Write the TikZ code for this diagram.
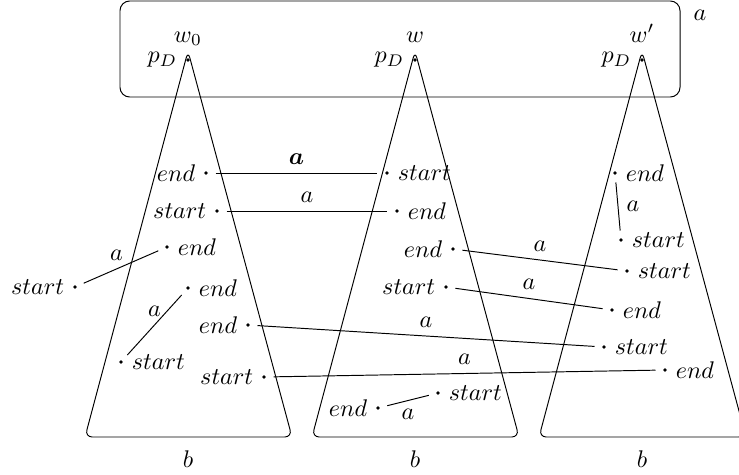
\documentclass[tikz,border=0pt]{standalone}
\usepackage{amsmath,amssymb}
\usepackage{tikz}
\usetikzlibrary{positioning}

\begin{document}
\begin{tikzpicture}[
  x=0.415pt,y=-0.415pt,
  pt/.style={circle,fill,inner sep=0pt,minimum size=1.5pt},
  tri/.style={rounded corners=3pt},
  link/.style={shorten <=3pt,shorten >=3pt},
  top/.style={label={[anchor=base,label distance=6.4pt]above:#1}}
]
\useasboundingbox (0,0) rectangle (739,474);
% world box
\draw[rounded corners=4pt] (120,1) rectangle (680,97);
\node (la) at (700,15) {$a$};
% trees
\foreach \x in {188,415,642} {
  \draw[tri] (\x,51) -- ++(-103,386) -- ++(207,0) -- cycle;
  \node at (\x,459) {$b$};
}
% roots
\node[pt,top=$w_0$,label=left:$p_D$] (r1) at (188,60) {};
\node[pt,top=$w$,label=left:$p_D$] (r2) at (415,60) {};
\node[pt,top=$w'$,label=left:$p_D$] (r3) at (642,60) {};
% first tree
\node[pt,label=left:$end$] (u1) at (206,173) {};
\node[pt,label=left:$start$] (u2) at (217,211) {};
\node[pt,label=right:$end$] (u3) at (167,247) {};
\node[pt,label=left:$start$] (u4) at (75,287) {};
\node[pt,label=right:$end$] (u5) at (188,288) {};
\node[pt,label=left:$end$] (u6) at (248,325) {};
\node[pt,label=right:$start$] (u7) at (121,362) {};
\node[pt,label=left:$start$] (u8) at (264,377) {};
% second tree
\node[pt,label=right:$start$] (v1) at (387,173) {};
\node[pt,label=right:$end$] (v2) at (397,211) {};
\node[pt,label=left:$end$] (v3) at (453,249) {};
\node[pt,label=left:$start$] (v4) at (446,287) {};
\node[pt,label=left:$end$] (v5) at (378,408) {};
\node[pt,label=right:$start$] (v6) at (438,393) {};
% third tree
\node[pt,label=right:$end$] (x1) at (615,173) {};
\node[pt,label=right:$start$] (x2) at (621,240) {};
\node[pt,label=right:$start$] (x3) at (627,271) {};
\node[pt,label=right:$end$] (x4) at (612,310) {};
\node[pt,label=right:$start$] (x5) at (604,347) {};
\node[pt,label=right:$end$] (x6) at (665,370) {};
% a-links
\draw[link] (u1) -- node[above]{$\boldsymbol{a}$} (v1);
\draw[link] (u2) -- node[above]{$a$} (v2);
\draw[link] (u4) -- node[pos=0.45,above]{$a$} (u3);
\draw[link] (u7) -- node[above]{$a$} (u5);
\draw[link] (v3) -- node[above]{$a$} (x3);
\draw[link] (v4) -- node[above]{$a$} (x4);
\draw[link] (u6) -- node[above]{$a$} (x5);
\draw[link] (u8) -- node[above]{$a$} (x6);
\draw[link] (v5) -- node[below]{$a$} (v6);
\draw[link] (x1) -- node[right]{$a$} (x2);
\end{tikzpicture}
\end{document}
